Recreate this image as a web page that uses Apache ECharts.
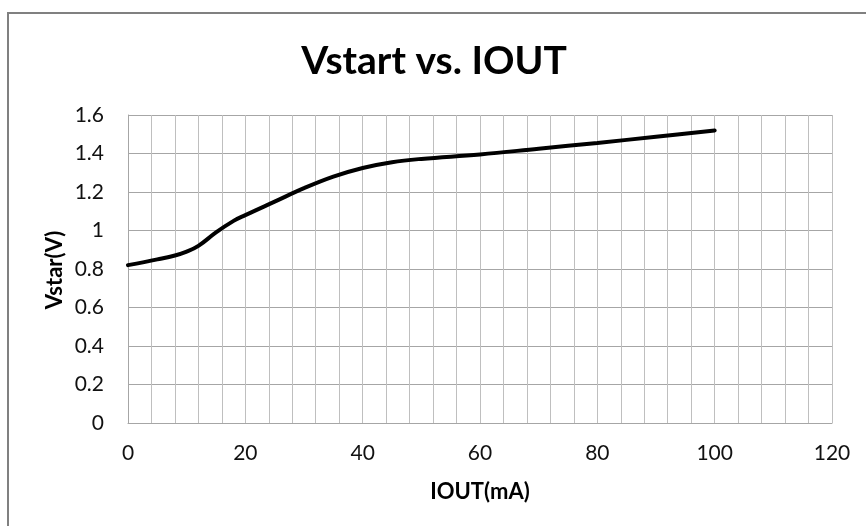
<!DOCTYPE html>
<html>
<head>
<meta charset="utf-8">
<script src="https://cdn.jsdelivr.net/npm/echarts@6/dist/echarts.min.js"></script>
<style>
html,body{margin:0;padding:0;background:#fff;}
#chart{position:absolute;left:0;top:0;width:866px;height:526px;}
#frame{position:absolute;left:7px;top:12px;right:-10px;bottom:-10px;border-left:2px solid #808080;border-top:2px solid #808080;pointer-events:none;}
</style>
</head>
<body>
<div id="chart"></div>
<div id="frame"></div>
<script>
const titleText = 'Vstart vs. IOUT';
const xName = 'IOUT(mA)';
const yName = 'Vstar(V)';
const iout = [0, 5, 8, 10, 12, 15, 18, 20, 25, 30, 35, 40, 45, 50, 60, 70, 80, 90, 100];
const vstart = [0.82, 0.85, 0.87, 0.89, 0.92, 0.99, 1.05, 1.08, 1.15, 1.22, 1.28, 1.325, 1.355, 1.372, 1.395, 1.425, 1.455, 1.487, 1.52];

const chart = echarts.init(document.getElementById('chart'));
const font = 'Lato, "Open Sans", sans-serif';
chart.setOption({
  animation: false,
  title: {
    text: titleText,
    left: 429, top: 37, textAlign: 'center',
    textStyle: {fontFamily: font, fontWeight: 'bold', fontSize: 39, color: '#000'}
  },
  graphic: [{
    type: 'text',
    x: 55, y: 270,
    rotation: Math.PI / 2,
    style: {
      text: yName, fontFamily: font, fontWeight: 'bold', fontSize: 22, fill: '#000',
      textAlign: 'center', textVerticalAlign: 'middle'
    }
  }],
  grid: {left: 128, top: 115, right: 34, bottom: 103, containLabel: false},
  xAxis: {
    type: 'value', min: 0, max: 120, interval: 20,
    name: xName, nameLocation: 'middle', nameGap: 58, nameMoveOverlap: false,
    nameTextStyle: {fontFamily: font, fontWeight: 'bold', fontSize: 22, color: '#000'},
    axisLine: {show: true, lineStyle: {color: '#a6a6a6', width: 1}},
    axisTick: {show: false},
    axisLabel: {margin: 20, fontFamily: font, fontSize: 21, color: '#111'},
    splitLine: {show: true, lineStyle: {color: '#bfbfbf', width: 1}},
    minorTick: {show: false, splitNumber: 5},
    minorSplitLine: {show: true, lineStyle: {color: '#bfbfbf', width: 1}}
  },
  yAxis: {
    type: 'value', min: 0, max: 1.6, interval: 0.2,
    axisLine: {show: true, lineStyle: {color: '#a6a6a6', width: 1}},
    axisTick: {show: false},
    axisLabel: {margin: 24, fontFamily: font, fontSize: 21, color: '#111'},
    splitLine: {show: true, lineStyle: {color: '#a6a6a6', width: 1}}
  },
  series: [{
    type: 'line',
    data: iout.map((x, i) => [x, vstart[i]]),
    smooth: 0.4,
    symbol: 'none',
    lineStyle: {color: '#000', width: 4, cap: 'round'}
  }]
});
</script>
</body>
</html>
